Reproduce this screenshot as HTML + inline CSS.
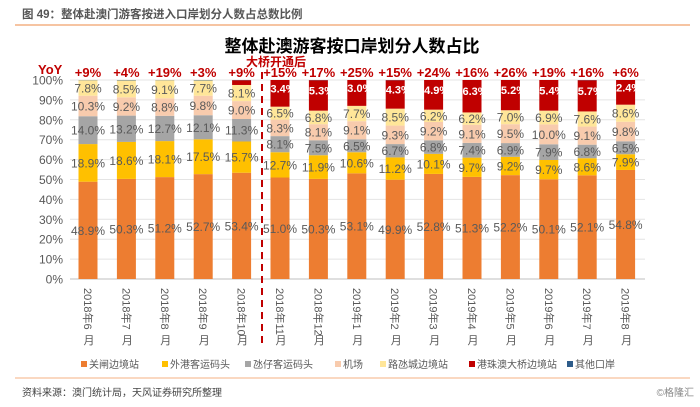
<!DOCTYPE html>
<html><head><meta charset="utf-8">
<style>
body{margin:0;background:#fff;}
svg{display:block;font-family:"Liberation Sans","Noto Sans CJK SC",sans-serif;}
</style></head>
<body>
<svg id="chart" width="700" height="407" viewBox="0 0 700 407" xmlns="http://www.w3.org/2000/svg">
<text x="22" y="18" font-size="11.5" fill="#555" font-weight="bold">图 49：整体赴澳门游客按进入口岸划分人数占总数比例</text>
<line x1="15" y1="25" x2="690" y2="25" stroke="#F4B183" stroke-width="1.5"/>
<text x="352" y="52" font-size="17" font-weight="bold" fill="#000" text-anchor="middle">整体赴澳游客按口岸划分人数占比</text>
<text x="276" y="66" font-size="12" font-weight="bold" fill="#C00000" text-anchor="middle">大桥开通后</text>
<text x="38" y="74" font-size="13" font-weight="bold" fill="#C00000">YoY</text>
<g id="grid"></g><g id="bars"></g><g id="labels"></g><g id="xlabels"></g><g id="legend"></g>
<line x1="262" y1="72" x2="262" y2="348" stroke="#C00000" stroke-width="2" stroke-dasharray="7,5"/>
<line x1="15" y1="378" x2="690" y2="378" stroke="#F4B183" stroke-width="1"/>
<text x="22" y="396" font-size="10" fill="#444">资料来源：澳门统计局，天风证券研究所整理</text>
<text x="694" y="396" font-size="10" fill="#888" text-anchor="end">©格隆汇</text>
</svg>
<script>
const categories=["2018年6月","2018年7月","2018年8月","2018年9月","2018年10月","2018年11月","2018年12月","2019年1月","2019年2月","2019年3月","2019年4月","2019年5月","2019年6月","2019年7月","2019年8月"];
const gate=[48.9,50.3,51.2,52.7,53.4,51.0,50.3,53.1,49.9,52.8,51.3,52.2,50.1,52.1,54.8];
const outerHarbour=[18.9,18.6,18.1,17.5,15.7,12.7,11.9,10.6,11.2,10.1,9.7,9.2,9.7,8.6,7.9];
const taipa=[14.0,13.2,12.7,12.1,11.3,8.1,7.5,6.5,6.7,6.8,7.4,6.9,7.9,6.8,6.5];
const airport=[10.3,9.2,8.8,9.8,9.0,8.3,8.1,9.1,9.3,9.2,9.1,9.5,10.0,9.1,9.8];
const cotai=[7.8,8.5,9.1,7.7,8.1,6.5,6.8,7.7,8.5,6.2,6.2,7.0,6.9,7.6,8.6];
const bridge=[0,0,0,0,2.4,13.4,15.3,13.0,14.3,14.9,16.3,15.2,15.4,15.7,12.4];
const yoy=["+9%","+4%","+19%","+3%","+9%","+15%","+17%","+25%","+15%","+24%","+16%","+26%","+19%","+16%","+6%"];
const yTicks=[0,10,20,30,40,50,60,70,80,90,100];
const seriesNames=["关闸边境站","外港客运码头","氹仔客运码头","机场","路氹城边境站","港珠澳大桥边境站","其他口岸"];
const seriesColors=["#ED7D31","#FFC000","#A5A5A5","#F8CBAD","#FFE699","#C00000","#2E5C8A"];
const seriesData=[gate,outerHarbour,taipa,airport,cotai,bridge];
const seriesKeys=["gate","outer-harbour","taipa","airport","cotai","bridge"];

const NS="http://www.w3.org/2000/svg";
const x0=88, step=38.4, bw=19, yBase=279, yTop=80;
const X=i=>x0+i*step;
const Y=v=>yBase-(yBase-yTop)*v/100;
function mk(tag,attrs,parent,txt){const e=document.createElementNS(NS,tag);for(const k in attrs)e.setAttribute(k,attrs[k]);if(txt!==undefined)e.textContent=txt;parent.appendChild(e);return e;}
const grid=document.getElementById('grid'),bars=document.getElementById('bars'),labels=document.getElementById('labels'),xl=document.getElementById('xlabels'),lg=document.getElementById('legend');
yTicks.forEach(t=>{
  const l=mk('line',{x1:70,x2:645,y1:Y(t),y2:Y(t),stroke:t===0?'#BFBFBF':'#E4E4E4','stroke-width':1},grid);
  
  
  const tx=mk('text',{x:63,y:Y(t)+4.5,'font-size':12,fill:'#595959','text-anchor':'end'},grid,t+'%');
  
  
});
categories.forEach((c,i)=>{
  let cum=0;
  seriesData.forEach((arr,s)=>{
    const v=arr[i]; if(v<=0){return;}
    const r=mk('rect',{x:X(i)-bw/2,y:Y(cum+v),width:bw,height:Y(cum)-Y(cum+v),fill:seriesColors[s]},bars);
    
    
    const cy=(Y(cum)+Y(cum+v))/2;
    if(v>=5){
      const isB=s===5;
      const t=mk('text',{x:X(i),y:cy+(isB?-1:4.5),'font-size':isB?11:12,'font-weight':isB?'bold':'normal',fill:isB?'#fff':'#595959','text-anchor':'middle'},labels,v.toFixed(1)+'%');
      
      
    }
    cum+=v;
  });
  const other=100-cum;
  if(other>0.05){
    const r=mk('rect',{x:X(i)-bw/2,y:Y(100),width:bw,height:Y(cum)-Y(100),fill:seriesColors[6]},bars);
    
    
  }
  const yt=mk('text',{x:X(i),y:77,'font-size':13,'font-weight':'bold',fill:'#C00000','text-anchor':'middle'},labels,yoy[i]);
  
  
  const m=c.match(/^(\d+年\d+)(月)$/);
  const g=mk('g',{transform:'translate('+(X(i)-4)+',288) rotate(90)'},xl);
  const t1=mk('text',{x:0,y:0,'font-size':11,fill:'#595959'},g,m[1]);
  
  
  const t2=mk('text',{x:X(i)+1,y:288+(m[1].length>7?51:45)+11,'font-size':11,fill:'#595959','text-anchor':'middle'},xl,m[2]);
  
  
});
const lx=[81,162,245,335,380,469,567];
seriesNames.forEach((n,s)=>{
  const r=mk('rect',{x:lx[s],y:361,width:6,height:6,fill:seriesColors[s]},lg);
  
  
  const t=mk('text',{x:lx[s]+8,y:368,'font-size':10,fill:'#595959'},lg,n);
  
  
});
</script>
</body></html>
